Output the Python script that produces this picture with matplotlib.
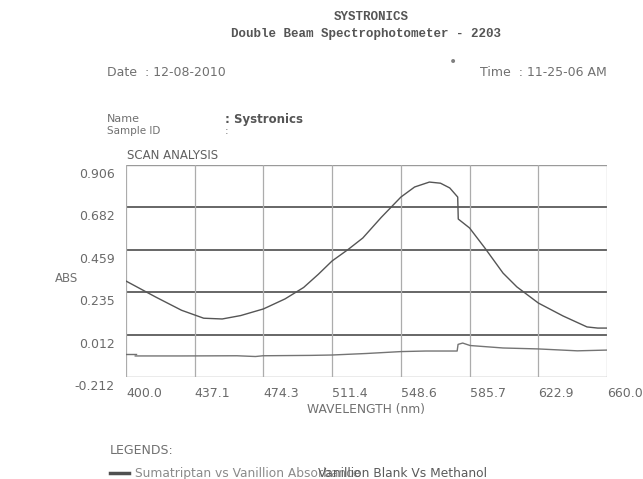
import numpy as np
import matplotlib
matplotlib.use("Agg")
import matplotlib.pyplot as plt
from matplotlib.transforms import ScaledTranslation

# wavelength axis ticks and absorbance axis ticks as printed
x_ticks = [400.0, 437.1, 474.3, 511.4, 548.6, 585.7, 622.9, 660.0]
x_tick_labels = ["400.0", "437.1", "474.3", "511.4", "548.6", "585.7", "622.9", "660.0"]
y_ticks = [-0.212, 0.012, 0.235, 0.459, 0.682, 0.906]
y_tick_labels = ["-0.212", "0.012", "0.235", "0.459", "0.682", "0.906"]

# Sumatriptan vs Vanillion
sample_wl = [400.0, 416.0, 430.0, 442.0, 452.0, 462.0, 474.3, 486.0, 496.0,
             504.0, 511.4, 520.0, 528.0, 538.0, 548.6, 556.0, 564.0, 570.0,
             575.0, 579.3, 579.6, 585.7, 594.0, 603.8, 611.3, 622.9, 636.2,
             649.2, 655.0, 660.0]
sample_abs = [0.294, 0.210, 0.140, 0.098, 0.094, 0.112, 0.147, 0.200, 0.260,
              0.330, 0.400, 0.460, 0.521, 0.630, 0.737, 0.790, 0.816, 0.810,
              0.785, 0.737, 0.621, 0.574, 0.468, 0.336, 0.263, 0.178, 0.110,
              0.052, 0.046, 0.046]

# Vanillion Blank vs Methanol
blank_wl = [405.0, 430.0, 460.0, 470.0, 474.0, 500.0, 511.4, 530.0, 548.6,
            562.0, 579.0, 579.5, 582.0, 586.0, 603.8, 622.9, 644.0, 660.0]
blank_abs = [-0.101, -0.101, -0.100, -0.104, -0.100, -0.098, -0.096, -0.088,
             -0.078, -0.075, -0.075, -0.040, -0.033, -0.046, -0.059, -0.064,
             -0.074, -0.070]

fig = plt.figure(figsize=(6.43, 4.79), dpi=100)
W, H = 643.0, 479.0

def fx(px):
    return px / W

def fy(py):
    return 1 - py / H

ax = fig.add_axes([fx(126), fy(377), 481 / W, 212 / H])
ax.set_xlim(400, 660)
ax.set_ylim(-0.212, 0.906)

# grid: dark horizontal rules, light vertical rules
for v in y_ticks:
    if v in (-0.212, 0.906):
        ax.axhline(v, color="#9a9a9a", lw=1.0, zorder=1)
    else:
        ax.axhline(v, color="#5a5a5a", lw=1.3, zorder=1)
for v in x_ticks:
    ax.axvline(v, color="#acacac", lw=0.9, zorder=1)

for s in ax.spines.values():
    s.set_visible(False)

ax.plot(sample_wl, sample_abs, color="#555555", lw=1.0, zorder=3)
ax.plot([400.0, 405.5], [-0.092, -0.092], color="#707070", lw=1.0, zorder=3)
ax.plot(blank_wl, blank_abs, color="#747474", lw=1.0, zorder=3)

ax.set_xticks(x_ticks)
ax.set_xticklabels(x_tick_labels)
ax.set_yticks(y_ticks)
ax.set_yticklabels(y_tick_labels)
ax.tick_params(axis="both", length=0, labelsize=9, labelcolor="#6a6a6a")
ax.tick_params(axis="x", pad=7)
ax.tick_params(axis="y", pad=8)
for lab in ax.get_xticklabels():
    lab.set_transform(lab.get_transform() + ScaledTranslation(0.18, 0, fig.dpi_scale_trans))
for lab in ax.get_yticklabels():
    lab.set_transform(lab.get_transform() + ScaledTranslation(0, -0.08, fig.dpi_scale_trans))

grey = "#707070"
mono = "Liberation Mono"
fig.text(fx(371), fy(17), "SYSTRONICS", family=mono, weight="bold", fontsize=9,
         ha="center", va="center", color="#555555")
fig.text(fx(366), fy(34), "Double Beam Spectrophotometer - 2203", family=mono,
         weight="bold", fontsize=9, ha="center", va="center", color="#555555")
fig.text(fx(107), fy(72), "Date  : 12-08-2010", fontsize=9, va="center", color=grey)
fig.text(fx(480), fy(72), "Time  : 11-25-06 AM", fontsize=9, va="center", color=grey)
fig.text(fx(453), fy(62), "\u2022", fontsize=10, ha="center", va="center", color="#808080")
fig.text(fx(107), fy(119), "Name", fontsize=8, va="center", color=grey)
fig.text(fx(225), fy(119), ": Systronics", fontsize=8.5, va="center", color="#555555",
         weight="bold")
fig.text(fx(107), fy(131), "Sample ID", fontsize=7.5, va="center", color=grey)
fig.text(fx(225), fy(131), ":", fontsize=7.5, va="center", color=grey)
fig.text(fx(127), fy(155), "SCAN ANALYSIS", fontsize=8.5, va="center", color="#606060")
fig.text(fx(55), fy(279), "ABS", fontsize=8.5, va="center", color=grey)
fig.text(fx(366), fy(409), "WAVELENGTH (nm)", fontsize=8.8, ha="center", va="center",
         color=grey)
fig.text(fx(110), fy(450), "LEGENDS:", fontsize=9, va="center", color=grey)

# legend line plus the two overprinted legend entries (overprinted on the scan)
fig.add_artist(plt.Line2D([fx(110), fx(129)], [fy(473), fy(473)], color="#505050",
                          lw=2.5, transform=fig.transFigure))
fig.text(fx(135), fy(477), "Sumatriptan vs Vanillion Absorbance", fontsize=8.8,
         va="baseline", color="#8a8a8a")
fig.text(fx(318), fy(477), "Vanillion Blank Vs Methanol", fontsize=8.8,
         va="baseline", color="#5a5a5a")

fig.savefig("out.png", dpi=100)
